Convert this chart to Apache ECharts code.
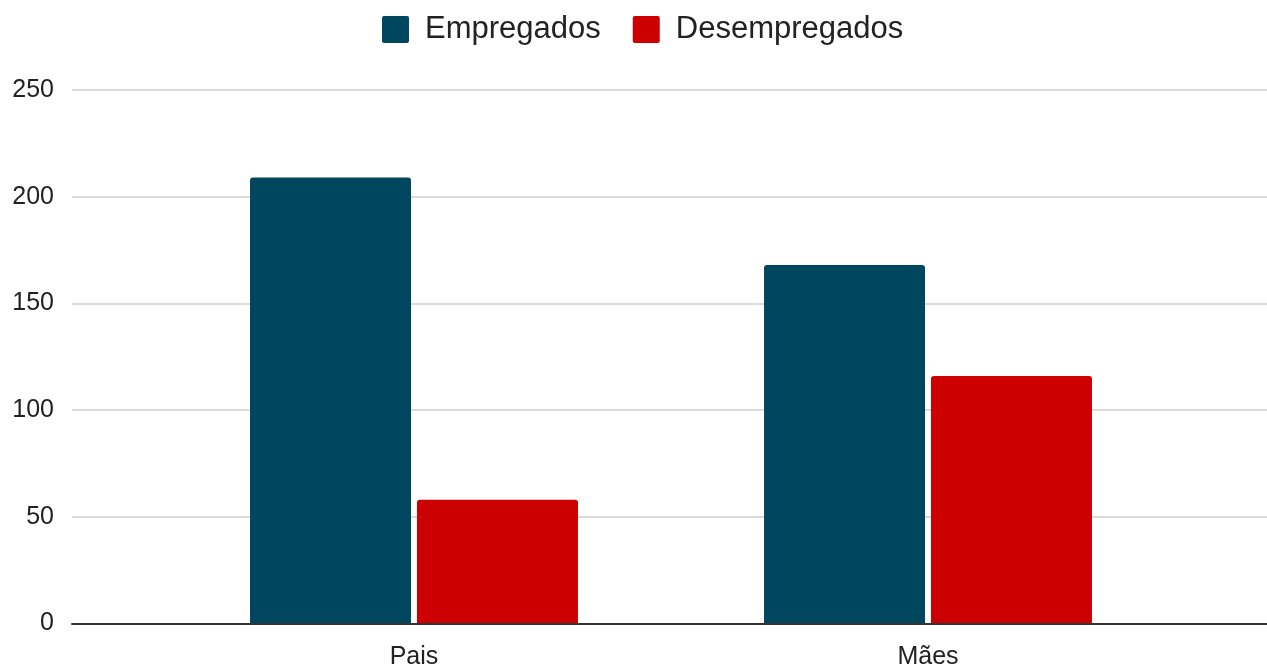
<!DOCTYPE html>
<html>
<head>
<meta charset="utf-8">
<script src="https://cdn.jsdelivr.net/npm/echarts@6/dist/echarts.min.js"></script>
<style>
  html, body { margin: 0; padding: 0; background: #fff; }
  #chart { width: 1267px; height: 665px; }
</style>
</head>
<body>
<div id="chart"></div>
<script>
// Employment status of fathers and mothers
const categories = ['Pais', 'Mães'];
const empregados = [209, 168];
const desempregados = [58, 116];
const yTicks = { min: 0, max: 250, interval: 50 };

const FONT = '"Liberation Sans", Arial, sans-serif';
// square legend swatch with slightly rounded corners
const SWATCH = 'path://M2,0 L25,0 Q27,0 27,2 L27,25 Q27,27 25,27 L2,27 Q0,27 0,25 L0,2 Q0,0 2,0 Z';

const chart = echarts.init(document.getElementById('chart'), null, { renderer: 'canvas' });

chart.setOption({
  animation: false,
  backgroundColor: '#ffffff',
  textStyle: { fontFamily: FONT },
  legend: {
    left: 377,
    top: 9,
    itemWidth: 27,
    itemHeight: 27,
    itemGap: 32,
    icon: SWATCH,
    textStyle: { fontSize: 31, color: '#222', fontFamily: FONT, padding: [0, 0, 0, 11] },
    data: ['Empregados', 'Desempregados']
  },
  grid: [
    // full-width grid carrying the value scale, gridlines and baseline
    { left: 72, right: 0, top: 90, bottom: 41.5, containLabel: false, outerBoundsMode: 'none' },
    // inner grid holding the bar groups
    { left: 157, right: 82, top: 90, bottom: 41.5, containLabel: false, outerBoundsMode: 'none' }
  ],
  xAxis: [
    {
      gridIndex: 0, type: 'value', min: 0, max: 1, z: 10,
      axisLine: { show: true, lineStyle: { color: '#333', width: 2 } },
      axisTick: { show: false }, axisLabel: { show: false }, splitLine: { show: false }
    },
    {
      gridIndex: 1, type: 'category', data: categories,
      axisLine: { show: false }, axisTick: { show: false },
      axisLabel: { fontSize: 25, color: '#222', margin: 21, fontFamily: FONT }
    }
  ],
  yAxis: [
    {
      gridIndex: 0, type: 'value', min: yTicks.min, max: yTicks.max, interval: yTicks.interval,
      axisLine: { show: false }, axisTick: { show: false },
      axisLabel: { fontSize: 25, color: '#222', margin: 18, fontFamily: FONT, padding: [4, 0, 0, 0] },
      splitLine: { lineStyle: { color: '#cfcfcf', width: 1.5 } }
    },
    {
      gridIndex: 1, type: 'value', min: yTicks.min, max: yTicks.max, interval: yTicks.interval,
      show: false, splitLine: { show: false }
    }
  ],
  series: [
    {
      name: 'Empregados', type: 'bar', xAxisIndex: 1, yAxisIndex: 1,
      data: empregados, barWidth: 161, barGap: '3.7%',
      itemStyle: { color: '#01465f', borderRadius: [3, 3, 0, 0] }
    },
    {
      name: 'Desempregados', type: 'bar', xAxisIndex: 1, yAxisIndex: 1,
      data: desempregados, barWidth: 161, barGap: '3.7%',
      itemStyle: { color: '#cc0000', borderRadius: [3, 3, 0, 0] }
    }
  ]
});
</script>
</body>
</html>
